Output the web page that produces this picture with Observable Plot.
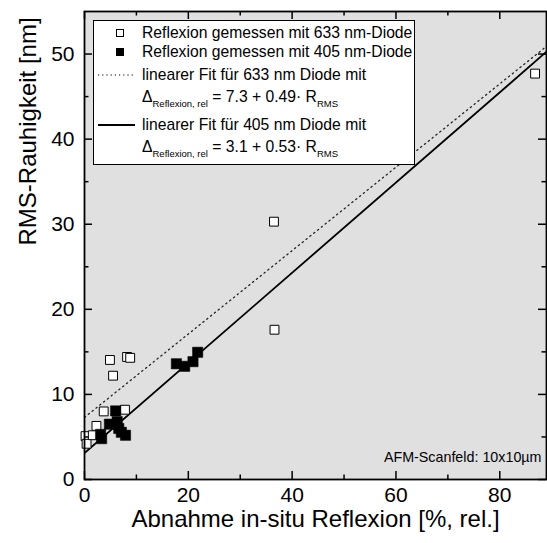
<!DOCTYPE html>
<html><head><meta charset="utf-8">
<script src="https://cdn.jsdelivr.net/npm/d3@7"></script>
<script src="https://cdn.jsdelivr.net/npm/@observablehq/plot@0.6"></script>
<style>
body{margin:0;background:#fff;font-family:"Liberation Sans",Arial,sans-serif;}
#wrap{position:relative;width:547px;height:543px;}
#legend{position:absolute;left:93px;top:20px;width:322px;height:145px;border:1px solid #000;background:#fff;box-sizing:border-box;}
.row{position:absolute;left:0;height:18px;line-height:18px;font-size:15.7px;white-space:nowrap;color:#000;}
.row .t{position:absolute;left:48px;top:0;}
.sym{position:absolute;}
sub{font-size:9.5px;vertical-align:-5px;line-height:0;}
</style></head>
<body><div id="wrap"></div>
<script>
// data
const x633 = [0.2, 0.4, 1.6, 2.3, 3.7, 4.9, 5.5, 7.8, 8.2, 8.8, 36.6, 36.5, 86.8];
const y633 = [5.1, 4.2, 5.2, 6.3, 8.0, 14.05, 12.2, 8.2, 14.4, 14.3, 17.6, 30.3, 47.7];
const x405 = [3.1, 3.3, 4.8, 6.0, 6.3, 6.6, 7.1, 7.9, 17.7, 19.3, 20.9, 21.8];
const y405 = [5.3, 4.8, 6.5, 8.06, 6.8, 6.0, 5.55, 5.2, 13.6, 13.3, 13.85, 14.95];
const fitIntercept = [7.3, 3.1];
const fitSlope = [0.49, 0.53];
const xMajor = [0, 20, 40, 60, 80];
const xMinor = [10, 30, 50, 70];
const yMajor = [0, 10, 20, 30, 40, 50];
const yMinor = [5, 15, 25, 35, 45];
const xDomain = [0, 89];
const yDomain = [0, 55];
const xTitle = "Abnahme in-situ Reflexion [%, rel.]";
const yTitle = "RMS-Rauhigkeit [nm]";
const note = "AFM-Scanfeld: 10x10µm";

const d633 = x633.map((x, i) => ({x, y: y633[i]}));
const d405 = x405.map((x, i) => ({x, y: y405[i]}));
const fitLine = k => xDomain.map(x => ({x, y: fitIntercept[k] + fitSlope[k] * x}));

const W = 547, H = 543, mL = 84, mR = 1, mT = 11, mB = 64;
const frameW = W - mL - mR, frameH = H - mT - mB;
const font = "Liberation Sans, Arial, sans-serif";
// inward ticks: tick marks spanning the frame, inset so only len px remain at one edge
const tx = (vals, side, len) => Plot.tickX(vals, {x: d => d, stroke: "black", strokeWidth: 1.5,
  insetTop: side === "bottom" ? frameH - len : 0, insetBottom: side === "top" ? frameH - len : 0});
const ty = (vals, side, len) => Plot.tickY(vals, {y: d => d, stroke: "black", strokeWidth: 1.5,
  insetRight: side === "left" ? frameW - len : 0, insetLeft: side === "right" ? frameW - len : 0});

const chart = Plot.plot({
  width: W, height: H,
  marginLeft: mL, marginRight: mR, marginTop: mT, marginBottom: mB,
  x: {domain: xDomain},
  y: {domain: yDomain},
  style: {fontFamily: font, background: "transparent", color: "#000"},
  marks: [
    Plot.frame({fill: "#e0e0e0"}),
    Plot.line(fitLine(0), {x: "x", y: "y", stroke: "#222", strokeWidth: 1.3, strokeDasharray: "1.3,3.6", clip: true}),
    Plot.line(fitLine(1), {x: "x", y: "y", stroke: "#000", strokeWidth: 1.8, clip: true}),
    Plot.dot(d633, {x: "x", y: "y", symbol: "square", r: 5, fill: "white", stroke: "black", strokeWidth: 1}),
    Plot.dot(d405, {x: "x", y: "y", symbol: "square", r: 5.8, fill: "black", stroke: "black", strokeWidth: 0.5}),
    Plot.text([note], {frameAnchor: "bottom-right", dx: -5, dy: -18, fontSize: 14.3, textAnchor: "end"}),
    tx(xMajor, "bottom", 8), tx(xMinor, "bottom", 4.5),
    tx(xMajor, "top", 8), tx(xMinor, "top", 4.5),
    ty(yMajor, "left", 8), ty(yMinor, "left", 4.5),
    ty(yMajor, "right", 8), ty(yMinor, "right", 4.5),
    Plot.axisX({anchor: "bottom", ticks: xMajor, tickSize: 0, tickPadding: 8, fontSize: 21, label: null}),
    Plot.axisY({anchor: "left", ticks: yMajor, tickSize: 0, tickPadding: 10, fontSize: 21, label: null}),
    Plot.frame({stroke: "black", strokeWidth: 1.8}),
    Plot.text([xTitle], {frameAnchor: "bottom", dy: 47, fontSize: 24}),
    Plot.text([yTitle], {frameAnchor: "left", dx: -56, rotate: -90, fontSize: 24})
  ]
});
document.getElementById("wrap").appendChild(chart);

// legend
const legendRows = [
  {cy: 33, sym: "open", html: "Reflexion gemessen mit 633 nm-Diode"},
  {cy: 52, sym: "filled", html: "Reflexion gemessen mit 405 nm-Diode"},
  {cy: 75, sym: "dotted", html: "linearer Fit für 633 nm Diode mit"},
  {cy: 97, sym: null, html: "Δ<sub>Reflexion, rel</sub> = " + fitIntercept[0] + " + " + fitSlope[0] + "· R<sub>RMS</sub>"},
  {cy: 125, sym: "solid", html: "linearer Fit für 405 nm Diode mit"},
  {cy: 147, sym: null, html: "Δ<sub>Reflexion, rel</sub> = " + fitIntercept[1] + " + " + fitSlope[1] + "· R<sub>RMS</sub>"}
];
const legend = document.createElement("div");
legend.id = "legend";
const top0 = 21;
legendRows.forEach(r => {
  const row = document.createElement("div");
  row.className = "row";
  row.style.top = (r.cy - top0 - 9) + "px";
  row.style.width = "320px";
  const t = document.createElement("span");
  t.className = "t";
  t.innerHTML = r.html;
  row.appendChild(t);
  if (r.sym) {
    const s = document.createElementNS("http://www.w3.org/2000/svg", "svg");
    s.setAttribute("width", "48"); s.setAttribute("height", "18");
    s.classList.add("sym");
    s.style.left = "0px"; s.style.top = "0px";
    if (r.sym === "open" || r.sym === "filled") {
      const q = document.createElementNS("http://www.w3.org/2000/svg", "rect");
      q.setAttribute("x", 22.5); q.setAttribute("y", 5.5);
      q.setAttribute("width", 7); q.setAttribute("height", 7);
      q.setAttribute("fill", r.sym === "open" ? "white" : "black");
      q.setAttribute("stroke", "black"); q.setAttribute("stroke-width", 1);
      s.appendChild(q);
    } else {
      const l = document.createElementNS("http://www.w3.org/2000/svg", "line");
      l.setAttribute("x1", 4); l.setAttribute("x2", 41);
      l.setAttribute("y1", 9); l.setAttribute("y2", 9);
      l.setAttribute("stroke", "black");
      l.setAttribute("stroke-width", r.sym === "solid" ? 1.8 : 1.2);
      if (r.sym === "dotted") l.setAttribute("stroke-dasharray", "1.2,3");
      s.appendChild(l);
    }
    row.appendChild(s);
  }
  legend.appendChild(row);
});
document.getElementById("wrap").appendChild(legend);
</script></body></html>
